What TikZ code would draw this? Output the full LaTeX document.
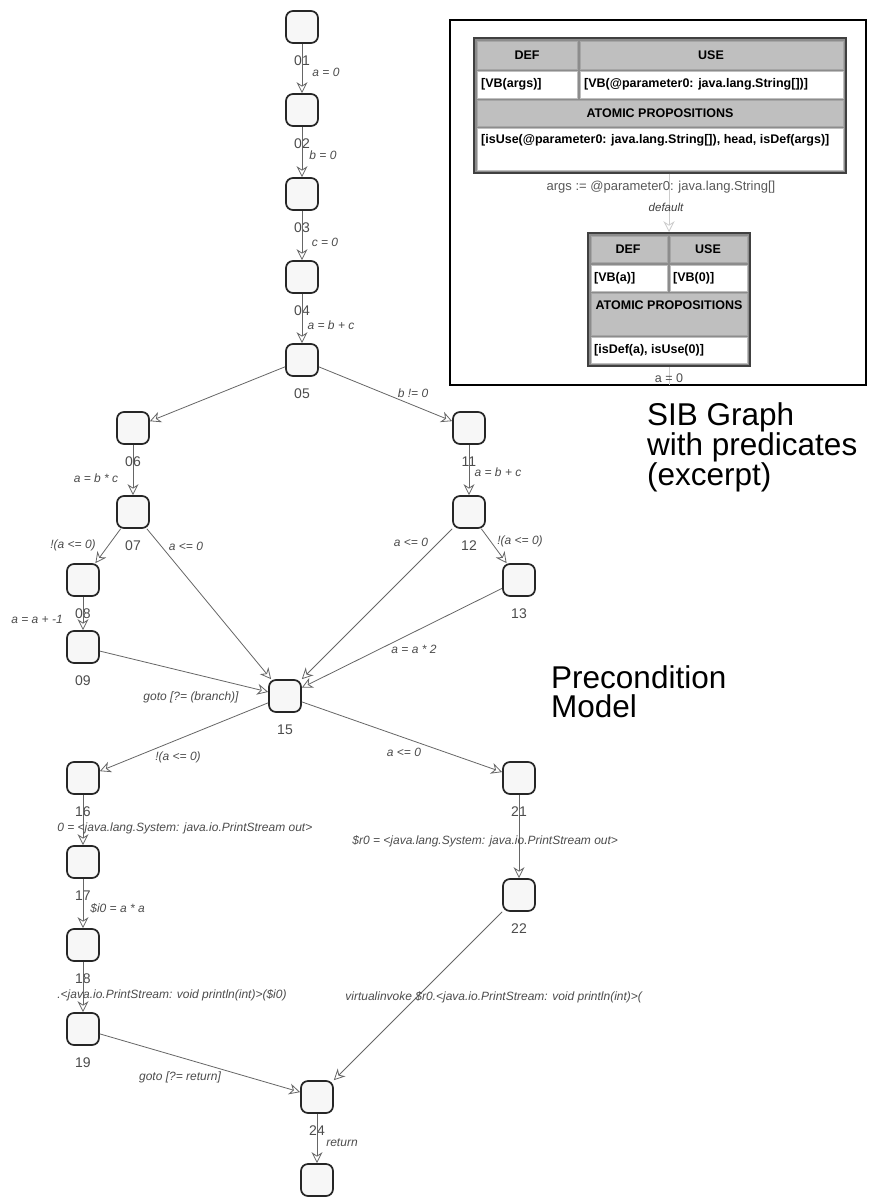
\documentclass[tikz,border=0pt]{standalone}
\usepackage{fontspec}
\setmainfont{Liberation Sans}
\usetikzlibrary{arrows.meta}

\tikzset{
  box/.style={draw=black!85, line width=1.7pt, rounded corners=7pt, fill=gray!6, minimum width=32pt, minimum height=32pt, inner sep=0pt},
  sib/.style={box, label={[num, yshift=-12pt]below:#1}},
  num/.style={font=\fontsize{14}{16}\selectfont, text=black!70, inner sep=0pt},
  flow/.style={draw=black!60, line width=0.8pt, -{Stealth[open, length=11pt, width=11pt, inset=3.5pt]}},
  cond/.style={font=\fontsize{12}{14}\selectfont\itshape, text=black!70, inner sep=0pt},
  note/.style={font=\fontsize{31.5}{29}\selectfont, align=left, anchor=north west, inner sep=0pt},
  tframe/.style={draw=black!75, line width=1.5pt, fill=gray!90, inner sep=0pt},
  hcell/.style={fill=gray!50, draw=gray!70, line width=0.6pt},
  vcell/.style={fill=white, draw=gray!50, line width=0.6pt},
  tbold/.style={font=\fontsize{12.5}{14}\selectfont\bfseries, inner sep=0pt},
  dflow/.style={draw=gray!40, line width=0.8pt, -{Stealth[open, length=11pt, width=11pt, inset=3.5pt]}}
}

\begin{document}
\begin{tikzpicture}[x=1pt, y=-1pt]
\path[use as bounding box, fill=white] (0,0) rectangle (889,1198);

\draw[black, line width=1.2pt, fill=white] (450,20) rectangle (866,385);

\node[tframe, minimum width=372pt, minimum height=135pt] (t1) at (660,105.5) {};
\draw[hcell] (477,41) rectangle (577,69);
\draw[hcell] (580,41) rectangle (843,69);
\draw[vcell] (477,71) rectangle (577,98);
\draw[vcell] (580,71) rectangle (843,98);
\draw[hcell] (477,100) rectangle (843,126);
\draw[vcell] (477,128) rectangle (843,170);
\node[tbold] (def1) at (527,55) {DEF};
\node[tbold] (use1) at (711,55) {USE};
\node[tbold, anchor=west] (defv1) at (481,84.5) {[VB(args)]};
\node[tbold, anchor=west] (usev1) at (584,84.5) {[VB(@parameter0: java.lang.String[])]};
\node[tbold] (ap1) at (660,113) {ATOMIC PROPOSITIONS};
\node[tbold, anchor=west] (apv1) at (481,140) {[isUse(@parameter0: java.lang.String[]), head, isDef(args)]};

\node[tframe, minimum width=162pt, minimum height=133pt] (t2) at (669,299.5) {};
\draw[hcell] (591,236) rectangle (667,262);
\draw[hcell] (670,236) rectangle (747,262);
\draw[vcell] (591,265) rectangle (667,291);
\draw[vcell] (670,265) rectangle (747,291);
\draw[hcell] (591,293) rectangle (747,335);
\draw[vcell] (591,337) rectangle (747,363);
\node[tbold] (def2) at (628,249) {DEF};
\node[tbold] (use2) at (708,249) {USE};
\node[tbold, anchor=west] (defv2) at (594,278) {[VB(a)]};
\node[tbold, anchor=west] (usev2) at (673,278) {[VB(0)]};
\node[tbold] (ap2) at (669,305) {ATOMIC PROPOSITIONS};
\node[tbold, anchor=west] (apv2) at (594,350) {[isDef(a), isUse(0)]};

\coordinate (sibout) at (669,385);
\draw[dflow] (t1.south -| t2.north) -- (t2.north)
  node[font=\fontsize{13}{15}\selectfont, text=black!65, inner sep=0pt] (argsl) at (661,187) {args := @parameter0: java.lang.String[]}
  node[font=\fontsize{11.5}{13}\selectfont\itshape, text=black!75, inner sep=0pt] (defl) at (666,207) {default};
\draw[draw=gray!40, line width=0.8pt] (t2.south) -- (sibout)
  node[font=\fontsize{12.5}{14}\selectfont, text=black!70, inner sep=0pt] (a0l) at (669,378) {a = 0};

\node[note] (sibnote) at (647,402) {SIB Graph\\with predicates\\(excerpt)};
\node[note] (precnote) at (551,665) {Precondition\\Model};

\node[sib=01] (n01) at (302,27) {};
\node[sib=02] (n02) at (302,110) {};
\node[sib=03] (n03) at (302,194) {};
\node[sib=04] (n04) at (302,277) {};
\node[sib=05] (n05) at (302,360) {};
\node[sib=06] (n06) at (133,428) {};
\node[sib=07] (n07) at (133,512) {};
\node[sib=08] (n08) at (83,580) {};
\node[sib=09] (n09) at (83,647) {};
\node[sib=11] (n11) at (469,428) {};
\node[sib=12] (n12) at (469,512) {};
\node[sib=13] (n13) at (519,580) {};
\node[sib=15] (n15) at (285,696) {};
\node[sib=16] (n16) at (83,778) {};
\node[sib=17] (n17) at (83,862) {};
\node[sib=18] (n18) at (83,945) {};
\node[sib=19] (n19) at (83,1029) {};
\node[sib=21] (n21) at (519,778) {};
\node[sib=22] (n22) at (519,895) {};
\node[sib=24] (n24) at (317,1097) {};
\node[box] (n25) at (317,1180) {};

\draw[flow] (n01) -- (n02) node[cond] (e01) at (326,72) {a = 0};
\draw[flow] (n02) -- (n03) node[cond] (e02) at (323,155) {b = 0};
\draw[flow] (n03) -- (n04) node[cond] (e03) at (325,242) {c = 0};
\draw[flow] (n04) -- (n05) node[cond] (e04) at (331,325) {a = b + c};
\draw[flow] (n05) -- (n06);
\draw[flow] (n05) -- (n11) node[cond] (e05) at (413,393) {b != 0};
\draw[flow] (n06) -- (n07) node[cond] (e06) at (96,478) {a = b * c};
\draw[flow] (n11) -- (n12) node[cond] (e11) at (498,472) {a = b + c};
\draw[flow] (n07) -- (n08) node[cond] (e07a) at (73,545) {!(a <= 0)};
\draw[flow] (n07) -- (n15) node[cond] (e07b) at (186,546) {a <= 0};
\draw[flow] (n12) -- (n15) node[cond] (e12a) at (411,542) {a <= 0};
\draw[flow] (n12) -- (n13) node[cond] (e12b) at (520,541) {!(a <= 0)};
\draw[flow] (n08) -- (n09) node[cond] (e08) at (37,619) {a = a + -1};
\draw[flow] (n09) -- (n15) node[cond] (e09) at (191,697) {goto [?= (branch)]};
\draw[flow] (n13) -- (n15) node[cond] (e13) at (414,649) {a = a * 2};
\draw[flow] (n15) -- (n16) node[cond] (e15a) at (178,757) {!(a <= 0)};
\draw[flow] (n15) -- (n21) node[cond] (e15b) at (404,752) {a <= 0};
\draw[flow] (n16) -- (n17) node[cond, anchor=west] (e16) at (57,828) {0 = <java.lang.System: java.io.PrintStream out>};
\draw[flow] (n21) -- (n22) node[cond, anchor=west] (e21) at (352,841) {\$r0 = <java.lang.System: java.io.PrintStream out>};
\draw[flow] (n17) -- (n18) node[cond, anchor=west] (e17) at (90,908) {\$i0 = a * a};
\draw[flow] (n18) -- (n19) node[cond, anchor=west] (e18) at (57,995) {.<java.io.PrintStream: void println(int)>(\$i0)};
\draw[flow] (n19) -- (n24) node[cond] (e19) at (180,1077) {goto [?= return]};
\draw[flow] (n22) -- (n24) node[cond, anchor=west] (e22) at (345,997) {virtualinvoke \$r0.<java.io.PrintStream: void println(int)>(};
\draw[flow] (n24) -- (n25) node[cond] (e24) at (342,1143) {return};
\end{tikzpicture}
\end{document}
